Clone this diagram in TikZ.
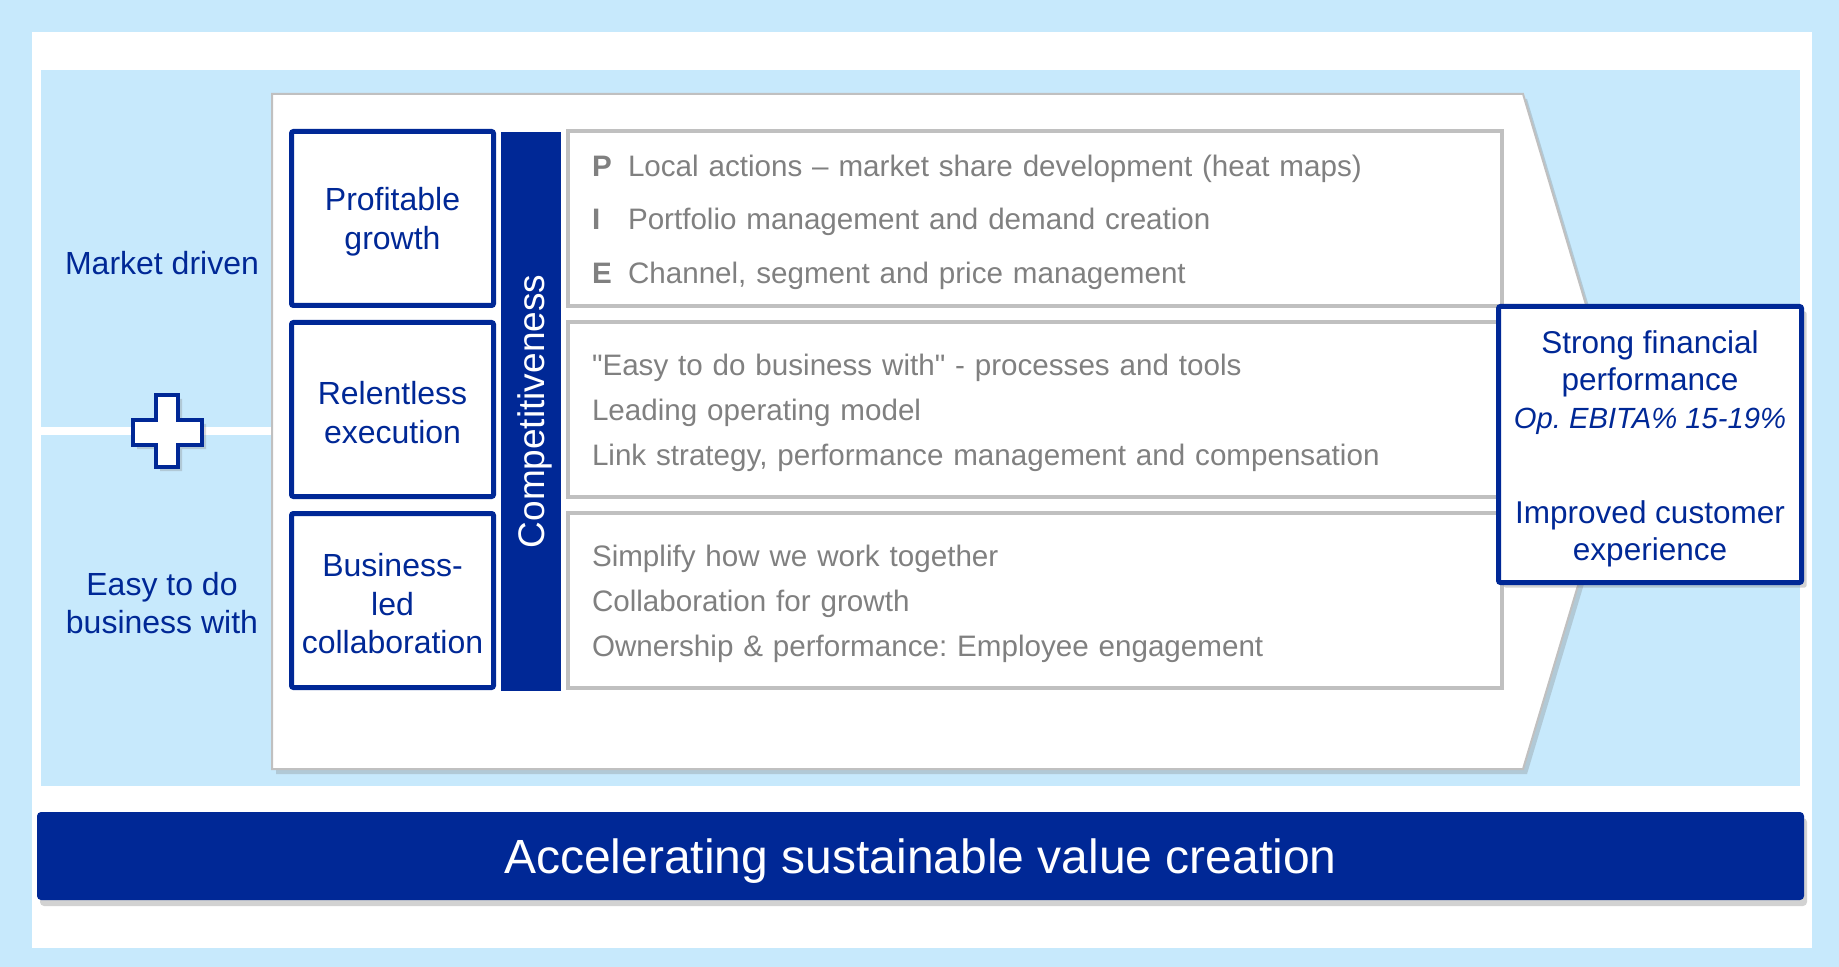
\documentclass[tikz,border=0pt]{standalone}
\usepackage{fontspec}
\setmainfont{Liberation Sans}[Ligatures=TeXOff]
\usetikzlibrary{shadows}
\definecolor{abbnavy}{RGB}{0,40,150}
\definecolor{paleblue}{RGB}{199,233,252}
\definecolor{rimgray}{RGB}{192,192,192}
\definecolor{txtgray}{RGB}{128,128,128}
\newcommand\padtop[1]{\rule{0pt}{#1}}
\frenchspacing

\begin{document}
\begin{tikzpicture}[x=0.5pt, y=-0.5pt,
    lbl/.style={text=abbnavy, font=\fontsize{16}{19.25}\selectfont, align=center},
    pillar/.style={draw=abbnavy, line width=2.5pt, fill=white, rounded corners=1pt, minimum width=101pt, minimum height=87pt, inner sep=0pt, text=abbnavy, font=\fontsize{16}{19.25}\selectfont, align=center},
    actbox/.style={draw=rimgray, line width=2pt, fill=white, minimum height=87.5pt, text width=443pt, inner xsep=12pt, inner ysep=0pt, align=left, text=txtgray, font=\fontsize{14.8}{22.5}\selectfont},
    bar/.style={fill=abbnavy, rotate=90, minimum width=279.5pt, minimum height=30pt, inner sep=0pt, text depth=0pt, text=white, font=\fontsize{18.5}{22}\selectfont},
    goal/.style={draw=abbnavy, line width=2.5pt, fill=white, rounded corners=1pt, minimum width=151.5pt, minimum height=138pt, inner sep=0pt, text=abbnavy, font=\fontsize{15.75}{18.75}\selectfont, align=center, drop shadow={shadow xshift=2.5pt, shadow yshift=-2.5pt, opacity=.35}},
    banner/.style={fill=abbnavy, rounded corners=2pt, minimum width=883.5pt, minimum height=44pt, inner sep=0pt, text depth=0pt, text=white, font=\fontsize{24}{28}\selectfont, drop shadow={shadow xshift=1.5pt, shadow yshift=-3pt, opacity=.35}}]

    \useasboundingbox (0,0) rectangle (1839,967);
    \fill[paleblue] (0,0) rectangle (1839,967);
    \fill[white] (32,32) rectangle (1812,948);
    \fill[paleblue] (41,70) rectangle (1800,786);
    \fill[white] (41,427) rectangle (275,435);

    \draw[abbnavy, fill=white, line width=2pt, drop shadow={shadow xshift=2pt, shadow yshift=-2pt, opacity=.3}]
      (133,420) -- (156,420) -- (156,395) -- (178,395) -- (178,420) -- (202,420) -- (202,445)
      -- (178,445) -- (178,467) -- (156,467) -- (156,445) -- (133,445) -- cycle;
    \draw[rimgray, fill=white, line width=1pt, drop shadow={shadow xshift=2pt, shadow yshift=-2.5pt, opacity=.3}]
      (272,94) -- (1523,94) -- (1624,432) -- (1523,769) -- (272,769) -- cycle;

    \node[lbl, anchor=base] (mkt) at (162,275) {Market driven};
    \node[lbl] (easy) at (162,603) {Easy to do\\business with};

    \node[pillar] (growth) at (392.5,218.5) {\padtop{14.7pt}Profitable\\growth};
    \node[pillar] (exec) at (392.5,409.5) {\padtop{14.7pt}Relentless\\execution};
    \node[pillar] (collab) at (392.5,600.5) {\padtop{14.7pt}Business-\\led\\collaboration};

    \node[bar] (comp) at (531,411.5) {Competitiveness};

    \node[actbox, font=\fontsize{14.8}{26.75}\selectfont] (pie) at (1035,218.5)
      {\padtop{14.3pt}\makebox[18pt][l]{\textbf{P}}Local actions – market share development (heat maps)\\
       \makebox[18pt][l]{\textbf{I}}Portfolio management and demand creation\\
       \makebox[18pt][l]{\textbf{E}}Channel, segment and price management};
    \node[actbox] (ease) at (1035,409.5)
      {\padtop{14.3pt}"Easy to do business with" - processes and tools\\
       Leading operating model\\
       Link strategy, performance management and compensation};
    \node[actbox] (team) at (1035,600.5)
      {\padtop{14.3pt}Simplify how we work together\\
       Collaboration for growth\\
       Ownership \& performance: Employee engagement};

    \node[goal] (target) at (1650,444.5)
      {\padtop{16pt}Strong financial\\performance\\{\itshape\fontsize{14.6}{18.75}\selectfont Op. EBITA\% 15-19\%}\\[28.75pt]Improved customer\\experience};

    \node[banner] (vision) at (920.5,856) {Accelerating sustainable value creation};
\end{tikzpicture}
\end{document}
